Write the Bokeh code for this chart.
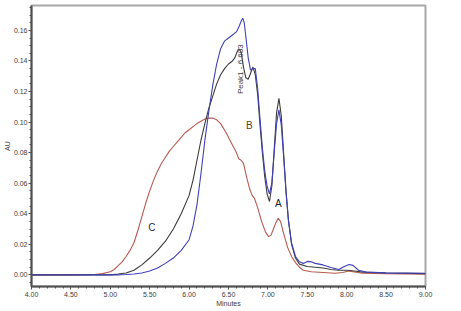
import math
from bokeh.plotting import figure
from bokeh.models import (Range1d, SingleIntervalTicker, NumeralTickFormatter, Label)
from bokeh.embed import file_html
from bokeh.resources import INLINE

# ---- data (minutes, AU) ----
red_t = [4.00, 4.50, 4.80, 4.90, 5.00, 5.05, 5.10, 5.15, 5.20, 5.25, 5.30, 5.35, 5.40, 5.45,
         5.50, 5.55, 5.60, 5.65, 5.70, 5.75, 5.80, 5.85, 5.90, 5.95, 6.00, 6.05, 6.10, 6.15,
         6.20, 6.25, 6.30, 6.35, 6.40, 6.47, 6.55, 6.60, 6.63, 6.66, 6.69, 6.73, 6.77, 6.80,
         6.83, 6.87, 6.92, 6.97, 7.01, 7.04, 7.07, 7.10, 7.13, 7.16, 7.20, 7.25, 7.30, 7.35,
         7.40, 7.45, 7.55, 7.70, 7.85, 7.95, 8.02, 8.08, 8.20, 8.50, 9.00]
red_au = [0.0, 0.0, 0.0002, 0.0008, 0.002, 0.0035, 0.006, 0.0085, 0.012, 0.016, 0.021, 0.029,
          0.038, 0.047, 0.055, 0.062, 0.068, 0.073, 0.077, 0.081, 0.084, 0.087, 0.090, 0.093,
          0.095, 0.097, 0.099, 0.1005, 0.102, 0.1026, 0.1027, 0.1015, 0.099, 0.093, 0.085,
          0.080, 0.076, 0.075, 0.073, 0.064, 0.056, 0.052, 0.050, 0.044, 0.035, 0.028, 0.025,
          0.026, 0.030, 0.034, 0.037, 0.035, 0.027, 0.018, 0.012, 0.008, 0.005, 0.003, 0.002,
          0.0015, 0.001, 0.0015, 0.0025, 0.002, 0.001, 0.0007, 0.0005]

black_t = [4.00, 5.00, 5.10, 5.20, 5.30, 5.40, 5.50, 5.60, 5.70, 5.80, 5.90, 6.00, 6.05, 6.10,
           6.15, 6.20, 6.25, 6.30, 6.35, 6.40, 6.45, 6.50, 6.55, 6.58, 6.61, 6.63, 6.66, 6.69,
           6.72, 6.75, 6.78, 6.81, 6.84, 6.87, 6.90, 6.93, 6.96, 6.99, 7.02, 7.05, 7.08, 7.11,
           7.14, 7.17, 7.20, 7.23, 7.26, 7.30, 7.35, 7.40, 7.50, 7.60, 7.70, 7.80, 7.90, 8.00,
           8.10, 8.20, 8.50, 9.00]
black_au = [0.0, 0.0, 0.0005, 0.0012, 0.003, 0.0065, 0.011, 0.016, 0.022, 0.030, 0.040, 0.052,
            0.062, 0.075, 0.088, 0.099, 0.109, 0.117, 0.125, 0.131, 0.135, 0.138, 0.140, 0.142,
            0.146, 0.148, 0.146, 0.136, 0.129, 0.128, 0.132, 0.136, 0.131, 0.118, 0.098, 0.080,
            0.064, 0.053, 0.048, 0.058, 0.082, 0.106, 0.1155, 0.104, 0.079, 0.055, 0.036, 0.020,
            0.011, 0.007, 0.0055, 0.005, 0.0045, 0.0035, 0.003, 0.003, 0.0025, 0.0018, 0.0012,
            0.0008]

blue_t = [4.00, 5.10, 5.20, 5.30, 5.40, 5.50, 5.60, 5.70, 5.80, 5.90, 6.00, 6.05, 6.10, 6.15,
          6.20, 6.25, 6.30, 6.35, 6.40, 6.45, 6.50, 6.55, 6.60, 6.63, 6.66, 6.68, 6.70, 6.72,
          6.75, 6.78, 6.81, 6.84, 6.87, 6.90, 6.93, 6.96, 6.99, 7.02, 7.05, 7.08, 7.11, 7.14,
          7.17, 7.20, 7.23, 7.26, 7.30, 7.35, 7.40, 7.45, 7.50, 7.55, 7.60, 7.70, 7.80, 7.90,
          7.97, 8.03, 8.08, 8.15, 8.25, 8.50, 9.00]
blue_au = [0.0, 0.0, 0.0002, 0.0006, 0.0012, 0.0025, 0.0045, 0.0075, 0.011, 0.016, 0.023,
           0.032, 0.046, 0.066, 0.088, 0.107, 0.124, 0.138, 0.148, 0.153, 0.155, 0.157, 0.159,
           0.162, 0.166, 0.168, 0.165, 0.156, 0.142, 0.134, 0.135, 0.135, 0.122, 0.102, 0.083,
           0.068, 0.058, 0.053, 0.060, 0.080, 0.099, 0.108, 0.098, 0.077, 0.054, 0.036, 0.021,
           0.012, 0.0085, 0.0075, 0.0088, 0.0085, 0.0075, 0.0065, 0.0048, 0.0035, 0.0055,
           0.0068, 0.0062, 0.003, 0.0018, 0.0013, 0.001]

y_ticks_step = 0.02
x_ticks_step = 0.5

peak_label = "Peak1 - 6.603"
curve_labels = ["A", "B", "C"]

# ---- figure ----
ymin = -0.00763
ymax = 0.1763
p = figure(width=453, height=309, output_backend="svg", toolbar_location=None,
           x_range=Range1d(4.0, 9.0), y_range=Range1d(ymin, ymax),
           min_border_left=29, min_border_right=28, min_border_top=5, min_border_bottom=22)
p.xgrid.visible = False
p.ygrid.visible = False
p.outline_line_color = "#a8a8a8"
p.outline_line_width = 2
p.background_fill_color = "white"
p.border_fill_color = "white"

for ax, step, nminor in ((p.xaxis[0], x_ticks_step, 5), (p.yaxis[0], y_ticks_step, 4)):
    ax.ticker = SingleIntervalTicker(interval=step, num_minor_ticks=nminor)
    ax.formatter = NumeralTickFormatter(format="0.00")
    ax.axis_line_color = "#505050"
    ax.axis_line_width = 2
    ax.major_tick_line_color = "#505050"
    ax.minor_tick_line_color = "#505050"
    ax.major_tick_in = 0
    ax.major_tick_out = 3
    ax.minor_tick_in = 0
    ax.minor_tick_out = 2
    ax.major_label_text_font = "Liberation Sans"
    ax.major_label_text_font_size = "7px"
    ax.major_label_text_color = "#404040"
    ax.major_label_standoff = 1
    ax.axis_label_text_font = "Liberation Sans"
    ax.axis_label_text_font_size = "7px"
    ax.axis_label_text_font_style = "normal"
    ax.axis_label_text_color = "#404040"
    ax.axis_label_standoff = 0

p.xaxis[0].axis_label = "Minutes"
p.yaxis[0].axis_label = "AU"
p.xaxis[0].major_label_standoff = 2

p.line(red_t, red_au, line_color="#b85a50", line_width=1.1)
p.line(black_t, black_au, line_color="#3c3c3c", line_width=1.1)
p.line(blue_t, blue_au, line_color="#4040b8", line_width=1.1)

# curve letters
p.add_layout(Label(x=5.528, y=0.0309, text=curve_labels[2], text_font="Liberation Sans",
                   text_font_size="10px", text_color="#2a2a40", text_align="center",
                   text_baseline="middle"))
p.add_layout(Label(x=6.765, y=0.098, text=curve_labels[1], text_font="Liberation Sans",
                   text_font_size="10px", text_color="#5a3f1a", text_align="center",
                   text_baseline="middle"))
p.add_layout(Label(x=7.131, y=0.0465, text=curve_labels[0], text_font="Liberation Sans",
                   text_font_size="10px", text_color="#202030", text_align="center",
                   text_baseline="middle"))
p.add_layout(Label(x=6.652, y=0.1346, text=peak_label, angle=math.pi / 2,
                   text_font="Liberation Sans", text_font_size="8px", text_color="#404040",
                   text_align="center", text_baseline="middle"))

open("out.html", "w").write(file_html(p, INLINE))
